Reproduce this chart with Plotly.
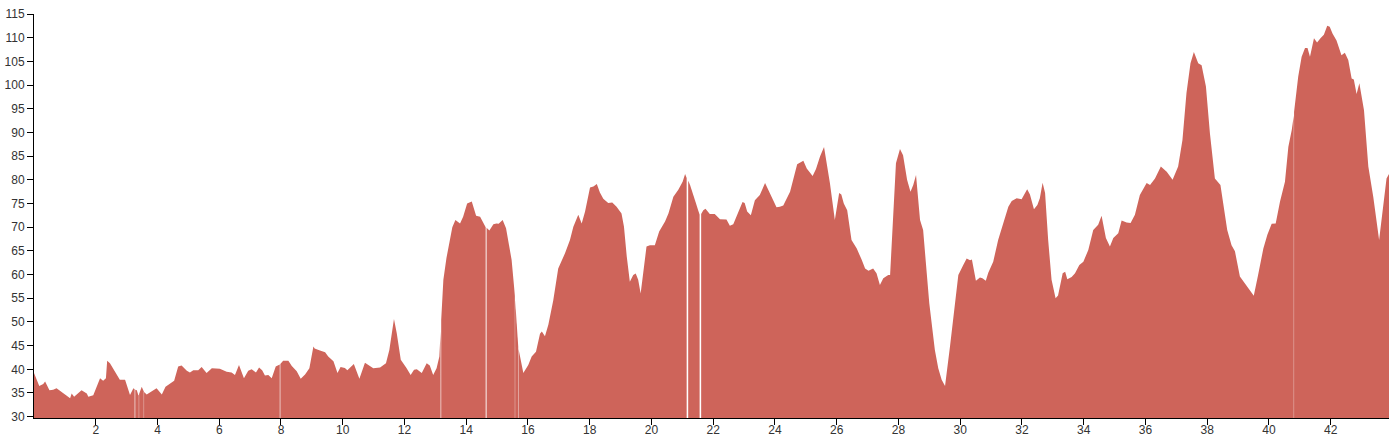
import plotly.graph_objects as go

# distance (km) and elevation readings; None marks a break in the recorded track
dist = [
    0.00, 0.09, 0.17, 0.30, 0.36, 0.50, 0.62, 0.73, 0.95, 1.17, 1.22, 1.30, 1.54, 1.71, 1.76, 1.92,
    2.14, 2.24, 2.33, 2.37, 2.46, 2.68, 2.78, 2.95, 3.11, 3.22, 3.26, 3.27, 3.28, 3.33, 3.38, 3.395, 3.40, 3.405,
    3.49, 3.555, 3.56, 3.565, 3.65, 3.97, 4.14, 4.26, 4.46, 4.54, 4.67, 4.78, 4.95, 5.05, 5.16, 5.32,
    5.43, 5.59, 5.76, 6.02, 6.24, 6.40, 6.51, 6.64, 6.80, 6.94, 7.05, 7.19, 7.29, 7.39, 7.48, 7.59,
    7.70, 7.83, 7.96, 7.97, 7.98, 8.07, 8.24, 8.35, 8.51, 8.64, 8.78, 8.92, 9.05, 9.09, 9.24, 9.43,
    9.53, 9.64, 9.70, 9.83, 9.93, 10.07, 10.15, 10.36, 10.54, 10.72, 10.83, 10.99, 11.21, 11.40, 11.51, 11.66,
    11.75, 11.88, 12.07, 12.20, 12.31, 12.40, 12.56, 12.72, 12.82, 12.93, 13.04, 13.13, 13.17, 13.18, 13.19, 13.26,
    13.36, 13.45, 13.55, 13.65, 13.80, 13.90, 14.03, 14.18, 14.25, 14.32, 14.45, 14.58, 14.63, 14.64, 14.66, 14.75,
    14.88, 14.98, 15.05, 15.18, 15.29, 15.47, 15.55, 15.575, 15.58, 15.585, 15.63, 15.685, 15.69, 15.695, 15.72, 15.85,
    16.01, 16.12, 16.26, 16.39, 16.45, 16.55, 16.66, 16.82, 16.98, 17.20, 17.36, 17.47, 17.63, 17.74, 17.85, 18.01,
    18.12, 18.23, 18.33, 18.44, 18.60, 18.73, 18.87, 19.03, 19.11, 19.20, 19.30, 19.41, 19.49, 19.57, 19.65, 19.73,
    19.84, 19.95, 20.11, 20.25, 20.44, 20.55, 20.71, 20.87, 21.01, 21.09, 21.14, 21.16, 21.19, 21.25, 21.41, 21.56,
    21.58, 21.61, 21.68, 21.75, 21.89, 22.05, 22.22, 22.43, 22.54, 22.65, 22.81, 22.95, 23.02, 23.10, 23.22, 23.35,
    23.51, 23.68, 23.89, 24.05, 24.16, 24.27, 24.49, 24.59, 24.72, 24.92, 25.03, 25.22, 25.33, 25.46, 25.59, 25.78,
    25.94, 26.08, 26.15, 26.23, 26.34, 26.48, 26.65, 26.81, 26.92, 27.03, 27.18, 27.29, 27.40, 27.51, 27.67, 27.73,
    27.83, 27.92, 28.05, 28.15, 28.28, 28.39, 28.48, 28.57, 28.70, 28.80, 28.89, 29.00, 29.18, 29.29, 29.40, 29.51,
    29.67, 29.78, 29.94, 30.10, 30.21, 30.32, 30.38, 30.51, 30.64, 30.72, 30.83, 30.91, 31.07, 31.23, 31.42, 31.56,
    31.67, 31.83, 31.99, 32.17, 32.26, 32.39, 32.50, 32.58, 32.67, 32.75, 32.85, 32.96, 33.09, 33.17, 33.32, 33.40,
    33.47, 33.61, 33.72, 33.86, 33.99, 34.15, 34.31, 34.47, 34.58, 34.72, 34.85, 34.96, 35.12, 35.23, 35.39, 35.52,
    35.66, 35.82, 36.04, 36.15, 36.31, 36.50, 36.69, 36.88, 37.06, 37.20, 37.33, 37.46, 37.57, 37.71, 37.82, 37.96,
    38.09, 38.25, 38.43, 38.52, 38.65, 38.79, 38.90, 39.06, 39.22, 39.38, 39.51, 39.65, 39.82, 39.95, 40.09, 40.22,
    40.36, 40.52, 40.63, 40.74, 40.805, 40.81, 40.815, 40.95, 41.06, 41.17, 41.25, 41.33, 41.46, 41.56, 41.67, 41.78,
    41.89, 41.97, 42.06, 42.19, 42.35, 42.46, 42.57, 42.68, 42.75, 42.84, 42.93, 43.08, 43.22, 43.38, 43.57, 43.71,
    43.81, 43.89,
]
elevation = [
    39.2, 37.8, 36.5, 36.9, 37.4, 35.6, 35.7, 36.0, 35.0, 33.9, 34.9, 34.2, 35.6, 34.9, 34.2, 34.5,
    38.1, 37.6, 38.1, 41.8, 41.3, 38.8, 37.8, 37.8, 34.6, 36.0, 35.8, None, 35.7, 35.6, 34.5, 34.6, None, 34.8,
    36.3, 35.3, None, 35.2, 34.7, 36.0, 34.7, 36.3, 37.3, 37.6, 40.6, 40.8, 39.7, 39.3, 39.8, 39.8,
    40.5, 39.2, 40.2, 40.1, 39.5, 39.3, 38.8, 40.9, 38.1, 39.7, 40.0, 39.3, 40.4, 39.8, 38.7, 38.8,
    38.1, 40.6, 41.0, None, 41.1, 41.8, 41.8, 40.7, 39.6, 38.0, 38.9, 40.2, 44.8, 44.4, 44.0, 43.6,
    42.7, 42.0, 41.7, 39.2, 40.5, 40.3, 39.8, 41.1, 38.0, 41.4, 40.9, 40.2, 40.4, 41.3, 44.1, 50.6,
    47.6, 42.0, 40.2, 38.8, 39.9, 40.0, 39.2, 41.3, 40.8, 38.8, 40.2, 42.7, 48.0, None, 50.4, 58.9,
    63.5, 67.0, 70.0, 71.5, 70.8, 72.2, 75.0, 75.4, 73.6, 72.4, 72.2, 70.5, 70.0, None, 69.9, 69.3,
    70.6, 70.8, 70.7, 71.5, 69.8, 63.1, 57.4, 55.5, None, 54.5, 49.0, 44.8, None, 44.3, 43.4, 39.2,
    40.9, 42.7, 43.7, 47.5, 48.0, 47.0, 49.4, 54.6, 61.3, 64.5, 67.3, 70.1, 72.6, 70.8, 73.3, 78.4,
    78.6, 79.1, 77.3, 76.0, 75.1, 75.2, 74.3, 72.9, 70.1, 63.8, 58.5, 59.9, 60.2, 58.9, 56.0, 60.2,
    65.9, 66.2, 66.2, 69.1, 71.2, 72.9, 76.4, 77.9, 79.6, 81.2, 80.4, None, 79.8, 78.9, 75.7, 72.6,
    None, 72.8, 73.6, 73.9, 72.8, 72.8, 71.7, 71.6, 70.3, 70.6, 72.9, 75.3, 75.1, 73.3, 72.5, 75.7,
    76.8, 79.3, 76.4, 74.2, 74.3, 74.6, 77.5, 80.3, 83.3, 84.0, 82.4, 80.8, 82.3, 84.9, 86.9, 79.3,
    71.5, 77.2, 76.9, 75.0, 73.6, 67.3, 65.5, 63.1, 61.3, 60.8, 61.3, 60.3, 57.8, 59.2, 59.9, 59.9,
    72.2, 83.5, 86.5, 85.2, 80.0, 77.5, 78.9, 81.0, 71.5, 69.4, 62.4, 53.9, 44.1, 40.2, 37.8, 36.5,
    44.8, 51.1, 59.9, 62.0, 63.4, 63.0, 63.2, 58.7, 59.4, 59.2, 58.7, 60.4, 62.7, 67.3, 71.2, 74.3,
    75.5, 76.1, 75.9, 78.0, 76.9, 73.8, 74.7, 76.1, 79.4, 77.2, 67.3, 58.9, 55.0, 55.6, 60.3, 60.6,
    59.0, 59.5, 60.3, 62.0, 62.7, 65.2, 69.4, 70.5, 72.4, 67.7, 65.9, 67.7, 68.7, 71.4, 71.0, 70.9,
    72.6, 76.8, 79.3, 78.9, 80.3, 82.8, 81.7, 80.0, 82.8, 88.4, 98.3, 104.6, 107.0, 104.6, 104.2, 99.7,
    89.8, 80.3, 78.9, 75.0, 69.4, 66.2, 64.9, 59.6, 58.2, 56.7, 55.5, 59.9, 65.5, 68.4, 70.7, 70.8,
    75.4, 79.6, 87.0, 90.5, 93.5, None, 94.3, 101.8, 106.0, 107.8, 107.8, 106.0, 109.9, 109.0, 109.9, 110.6,
    112.5, 112.3, 110.9, 109.4, 106.3, 106.8, 105.3, 101.4, 101.2, 98.1, 100.4, 94.7, 82.8, 76.4, 67.3, 75.0,
    80.3, 81.2,
]

x_ticks = [2, 4, 6, 8, 10, 12, 14, 16, 18, 20, 22, 24, 26, 28, 30, 32, 34, 36, 38, 40, 42]
y_ticks = [30, 35, 40, 45, 50, 55, 60, 65, 70, 75, 80, 85, 90, 95, 100, 105, 110, 115]

fill_color = "#CE645A"

# split the track into continuous segments at the breaks
segments = []
cur_x, cur_y = [], []
for xv, yv in zip(dist, elevation):
    if yv is None:
        if cur_x:
            segments.append((cur_x, cur_y))
        cur_x, cur_y = [], []
    else:
        cur_x.append(xv)
        cur_y.append(yv)
if cur_x:
    segments.append((cur_x, cur_y))

fig = go.Figure()
for sx, sy in segments:
    fig.add_trace(
        go.Scatter(
            x=sx,
            y=sy,
            mode="lines",
            fill="tozeroy",
            fillcolor=fill_color,
            line=dict(color=fill_color, width=0),
            hoverinfo="x+y",
        )
    )

axis_font = dict(family="Liberation Sans, Arial, sans-serif", size=12, color="#333333")

common_axis = dict(
    showgrid=False,
    zeroline=False,
    showline=True,
    linecolor="#000000",
    linewidth=1,
    ticks="outside",
    ticklen=6,
    tickcolor="#000000",
    tickfont=axis_font,
    automargin=False,
)

fig.update_layout(
    width=1396,
    height=438,
    margin=dict(l=34, r=7, t=14, b=20),
    paper_bgcolor="white",
    plot_bgcolor="white",
    showlegend=False,
    xaxis=dict(
        range=[0, 43.89],
        tickvals=x_ticks,
        ticktext=[str(v) for v in x_ticks],
        ticklabelstandoff=-5,
        **common_axis,
    ),
    yaxis=dict(
        range=[29.72, 115],
        tickvals=y_ticks,
        ticktext=[str(v) for v in y_ticks],
        **common_axis,
    ),
)

fig.write_html(
    "out.html",
    config={"displayModeBar": False},
    post_script="document.body.style.margin='0';document.body.style.overflow='hidden';",
)
